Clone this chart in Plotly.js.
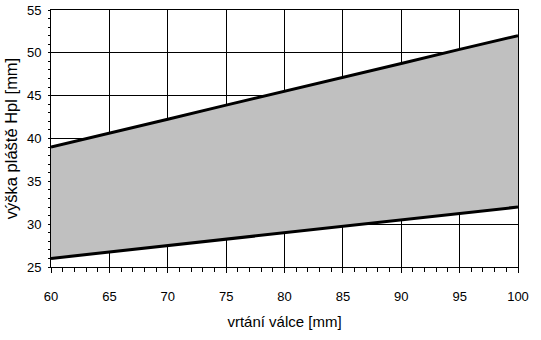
<!DOCTYPE html>
<html>
<head>
<meta charset="utf-8">
<script src="https://cdn.plot.ly/plotly-3.0.1.min.js"></script>
<style>html,body{margin:0;padding:0;background:#fff;}#chart{width:541px;height:340px;}</style>
</head>
<body>
<div id="chart"></div>
<script>
var bore = [60, 65, 70, 75, 80, 85, 90, 95, 100];
var heightMin = [26, 26.75, 27.5, 28.25, 29, 29.75, 30.5, 31.25, 32];
var heightMax = [39, 40.6, 42.25, 43.9, 45.5, 47.1, 48.75, 50.4, 52];
var xTitle = 'vrtání válce [mm]';
var yTitle = 'výška pláště Hpl [mm]';

var font = {family: 'Liberation Sans, Arial, sans-serif', size: 13, color: '#000'};

var traces = [
  {x: bore, y: heightMin, mode: 'lines', line: {color: '#000', width: 3}, showlegend: false},
  {x: bore, y: heightMax, mode: 'lines', line: {color: '#000', width: 3}, fill: 'tonexty', fillcolor: '#c0c0c0', showlegend: false}
];

var layout = {
  width: 541, height: 340,
  margin: {l: 51, r: 23, t: 10, b: 73, pad: 0},
  paper_bgcolor: '#fff', plot_bgcolor: '#fff',
  font: font,
  showlegend: false,
  xaxis: {
    range: [60, 100], dtick: 5, tick0: 60,
    showgrid: true, gridcolor: '#000', gridwidth: 1,
    showline: true, linecolor: '#000', linewidth: 1, mirror: true,
    zeroline: false,
    ticks: 'outside', ticklen: 5, tickcolor: '#000',
    ticklabelstandoff: 12,
    minor: {dtick: 1, ticks: 'outside', ticklen: 4, tickcolor: '#000', showgrid: false},
    tickfont: font,
    title: {text: xTitle, font: {family: font.family, size: 15, color: '#000'}, standoff: 13}
  },
  yaxis: {
    range: [25, 55], dtick: 5, tick0: 25,
    showgrid: true, gridcolor: '#000', gridwidth: 1,
    showline: true, linecolor: '#000', linewidth: 1, mirror: true,
    zeroline: false,
    ticks: 'outside', ticklen: 2, tickcolor: '#000',
    ticklabelstandoff: 4,
    minor: {dtick: 1, ticks: 'outside', ticklen: 2, tickcolor: '#000', showgrid: false},
    tickfont: font,
    title: {text: yTitle, font: {family: font.family, size: 16.5, color: '#000'}, standoff: 5}
  }
};

Plotly.newPlot('chart', traces, layout, {staticPlot: true, displayModeBar: false});
</script>
</body>
</html>
